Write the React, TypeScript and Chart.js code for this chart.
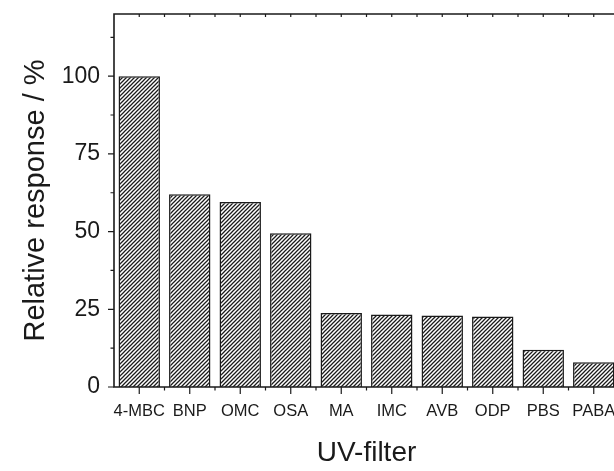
import React, { useEffect, useRef } from "react";
import { Chart, registerables } from "chart.js";

Chart.register(...registerables);

const categories = ["4-MBC", "BNP", "OMC", "OSA", "MA", "IMC", "AVB", "ODP", "PBS", "PABA"];
const responses = [100, 62, 59.5, 49.5, 23.8, 23.3, 23.0, 22.7, 12.0, 8.0];
const yTickValues = [0, 25, 50, 75, 100];
const yMax = 120;
const xTitle = "UV-filter";
const yTitle = "Relative response / %";

const FONT = "'Liberation Sans', Arial, Helvetica, sans-serif";
const INK = "#1a1a1a";

function makeHatch(): CanvasPattern | string {
  const s = 4;
  const c = document.createElement("canvas");
  c.width = s;
  c.height = s;
  const g = c.getContext("2d");
  if (!g) return "#fff";
  g.fillStyle = "#fff";
  g.fillRect(0, 0, s, s);
  g.strokeStyle = INK;
  g.lineWidth = 1.25;
  g.beginPath();
  g.moveTo(-1, s + 1);
  g.lineTo(s + 1, -1);
  g.moveTo(-1, 1);
  g.lineTo(1, -1);
  g.moveTo(s - 1, s + 1);
  g.lineTo(s + 1, s - 1);
  g.stroke();
  const p = g.createPattern(c, "repeat");
  return p || "#fff";
}

const framePlugin = {
  id: "frame",
  afterDatasetsDraw(chart: any) {
    const { ctx, chartArea, scales } = chart;
    const { left, right, top, bottom } = chartArea;
    const x = scales.x;
    const y = scales.y;
    ctx.save();
    ctx.strokeStyle = INK;
    ctx.lineWidth = 1.6;
    ctx.lineCap = "butt";
    ctx.beginPath();
    ctx.moveTo(right, top);
    ctx.lineTo(left, top);
    ctx.lineTo(left, bottom);
    ctx.lineTo(right, bottom);
    ctx.lineTo(right, top);
    ctx.stroke();

    ctx.lineWidth = 1.2;
    ctx.beginPath();
    const step = yTickValues[1] - yTickValues[0];
    for (const v of yTickValues) {
      const py = y.getPixelForValue(v);
      ctx.moveTo(left - 6, py);
      ctx.lineTo(left, py);
    }
    for (let v = yTickValues[0] + step / 2; v < y.max; v += step) {
      const py = y.getPixelForValue(v);
      ctx.moveTo(left - 3.5, py);
      ctx.lineTo(left, py);
    }
    const n = categories.length;
    const half = (x.getPixelForValue(1) - x.getPixelForValue(0)) / 2;
    for (let i = 0; i < n; i++) {
      const px = x.getPixelForValue(i);
      ctx.moveTo(px, bottom);
      ctx.lineTo(px, bottom + 7);
      ctx.moveTo(px, top);
      ctx.lineTo(px, top + 3);
      const bx = px + half;
      ctx.moveTo(bx, bottom);
      ctx.lineTo(bx, bottom + 3.5);
      ctx.moveTo(bx, top);
      ctx.lineTo(bx, top + 3);
    }
    ctx.stroke();
    ctx.restore();
  },
};

export default function App() {
  const ref = useRef<HTMLCanvasElement | null>(null);

  useEffect(() => {
    if (!ref.current) return;
    const chart = new Chart(ref.current, {
      type: "bar",
      data: {
        labels: categories,
        datasets: [
          {
            data: responses,
            backgroundColor: makeHatch() as any,
            borderColor: INK,
            borderWidth: 1.5,
            barPercentage: 0.82,
            categoryPercentage: 1,
          },
        ],
      },
      options: {
        responsive: false,
        animation: false,
        maintainAspectRatio: false,
        layout: { padding: { top: 14, right: 21, left: 0, bottom: 0 } },
        plugins: { legend: { display: false }, tooltip: { enabled: false } },
        scales: {
          x: {
            type: "category",
            offset: true,
            grid: { display: false, drawTicks: false },
            border: { display: false },
            ticks: {
              color: INK,
              font: { family: FONT, size: 16.5 },
              padding: 15,
              maxRotation: 0,
              autoSkip: false,
            },
            title: {
              display: true,
              text: xTitle,
              color: INK,
              font: { family: FONT, size: 28 },
              padding: { top: 0, bottom: 1 },
            },
            afterFit: (s: any) => {
              s.height = 84;
              s.paddingLeft = 0;
              s.paddingRight = 0;
            },
          },
          y: {
            min: 0,
            max: yMax,
            grid: { display: false, drawTicks: false },
            border: { display: false },
            afterBuildTicks: (s: any) => {
              s.ticks = yTickValues.map((v) => ({ value: v }));
            },
            ticks: {
              color: INK,
              font: { family: FONT, size: 23 },
              padding: 14,
            },
            title: {
              display: true,
              text: yTitle,
              color: INK,
              font: { family: FONT, size: 29 },
              padding: { top: 19, bottom: 0 },
            },
            afterFit: (s: any) => {
              s.width = 114;
              s.paddingTop = 0;
              s.paddingBottom = 0;
            },
          },
        },
      },
      plugins: [framePlugin],
    });
    return () => chart.destroy();
  }, []);

  return (
    <div
      style={{
        position: "fixed",
        left: 0,
        top: 0,
        width: 614,
        height: 471,
        overflow: "hidden",
        background: "#fff",
      }}
    >
      <canvas ref={ref} width={640} height={471} style={{ display: "block", width: 640, height: 471 }} />
    </div>
  );
}
